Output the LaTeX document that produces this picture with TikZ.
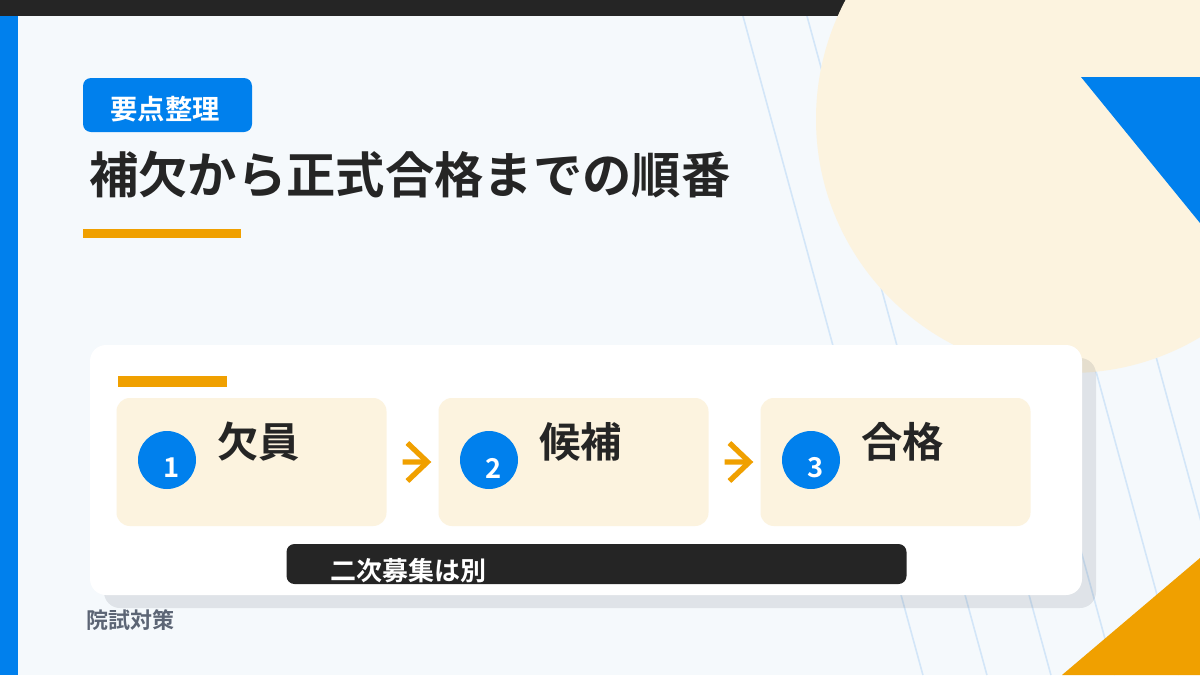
\documentclass[tikz,border=0pt]{standalone}
\usepackage{fontspec}
\setmainfont{Noto Sans CJK JP}[BoldFont={Noto Sans CJK JP Bold}]
\usetikzlibrary{calc}
\definecolor{bgc}{HTML}{F5F9FC}
\definecolor{bluec}{HTML}{0080ED}
\definecolor{orangec}{HTML}{F0A000}
\definecolor{creamc}{HTML}{FCF3DF}
\definecolor{darkc}{HTML}{252525}
\definecolor{linec}{HTML}{D3E6F8}
\definecolor{footc}{HTML}{5C6575}
\definecolor{shadowc}{HTML}{1E293B}
\begin{document}
\begin{tikzpicture}[x=0.75pt,y=-0.75pt,
  gridline/.style={draw=linec,line width=1.2pt},
  card/.style={fill=white,rounded corners=12pt,minimum width=744pt,minimum height=187.5pt,inner sep=0pt},
  tagbox/.style={fill=bluec,rounded corners=6pt,minimum width=126.75pt,minimum height=40.5pt,inner sep=0pt},
  tagtext/.style={text=white,font=\bfseries\fontsize{20.5pt}{23pt}\selectfont,inner sep=0pt},
  titletext/.style={text=darkc,font=\bfseries\fontsize{37pt}{41pt}\selectfont,inner sep=0pt,anchor=west},
  stepbox/.style={fill=creamc,rounded corners=10pt,minimum width=202.5pt,minimum height=96pt,inner sep=0pt},
  numcirc/.style={circle,fill=bluec,minimum size=43.5pt,inner sep=0pt},
  numtxt/.style={text=white,font=\bfseries\fontsize{20.5pt}{23pt}\selectfont,inner sep=0pt},
  steptitle/.style={text=darkc,font=\bfseries\fontsize{31pt}{35pt}\selectfont,inner sep=0pt,anchor=west},
  flowarrow/.style={draw=orangec,line width=4pt,line cap=butt,line join=miter},
  notebar/.style={fill=darkc,rounded corners=6pt,minimum width=465pt,minimum height=30pt,inner sep=0pt},
  notetext/.style={text=white,font=\bfseries\fontsize{19.5pt}{22pt}\selectfont,inner sep=0pt,anchor=west},
  foot/.style={text=footc,font=\bfseries\fontsize{16.5pt}{19pt}\selectfont,inner sep=0pt,anchor=west}
]
\useasboundingbox (0,0) rectangle (1200,675);
\fill[bgc] (0,0) rectangle (1200,675);
% diagonal lines
\foreach \k in {0,...,7}
  \draw[gridline] ({738.6+64*\k},0) -- ({922.9+64*\k},675);
% top bar
\fill[darkc] (0,0) rectangle (1200,16);
% big cream circle
\fill[creamc] (1070,119) circle[radius=254];
% triangles
\fill[bluec] (1081,77) -- (1200,77) -- (1200,223) -- cycle;
\fill[orangec] (1062,675) -- (1200,558) -- (1200,675) -- cycle;
% left bar
\fill[bluec] (0,16) rectangle (18,675);
% tag and title
\node[tagbox] (tag) at (167.5,105) {};
\node[tagtext] (tagt) at (165,109) {要点整理};
\node[titletext] (title) at (89,175) {補欠から正式合格までの順番};
\fill[orangec] (83,229) rectangle (241,238);
% card
\fill[shadowc,opacity=0.1,rounded corners=12pt] (104,358) rectangle (1096,608);
\node[card] (card) at (586,470) {};
\fill[orangec] (118,376) rectangle (227,387);
% steps
\node[stepbox] (s1) at (251.5,462) {};
\node[stepbox] (s2) at (573.5,462) {};
\node[stepbox] (s3) at (895.5,462) {};
\node[numcirc] (c1) at ([shift={(-84.5,-2)}]s1.center) {};
\node[numcirc] (c2) at ([shift={(-84.5,-2)}]s2.center) {};
\node[numcirc] (c3) at ([shift={(-84.5,-2)}]s3.center) {};
\node[numtxt] (n1) at ([shift={(5,8)}]c1.center) {1};
\node[numtxt] (n2) at ([shift={(5,8)}]c2.center) {2};
\node[numtxt] (n3) at ([shift={(5,8)}]c3.center) {3};
\node[steptitle] (t1) at ([shift={(101,-20)}]s1.west) {欠員};
\node[steptitle] (t2) at ([shift={(101,-20)}]s2.west) {候補};
\node[steptitle] (t3) at ([shift={(101,-20)}]s3.west) {合格};
% arrows
\draw[flowarrow] ($(s1.east)!0.31!(s2.west)$) -- ($(s1.east)!0.79!(s2.west)$) coordinate (a1);
\draw[flowarrow] ([shift={(-20,-19)}]a1) -- (a1) -- ([shift={(-20,19)}]a1);
\draw[flowarrow] ($(s2.east)!0.31!(s3.west)$) -- ($(s2.east)!0.79!(s3.west)$) coordinate (a2);
\draw[flowarrow] ([shift={(-20,-19)}]a2) -- (a2) -- ([shift={(-20,19)}]a2);
% note bar
\node[notebar] (note) at (596.5,564) {};
\node[notetext] (notet) at (330,570.5) {二次募集は別};
% footer
\node[foot] (footer) at (86,620) {院試対策};
\end{tikzpicture}
\end{document}
